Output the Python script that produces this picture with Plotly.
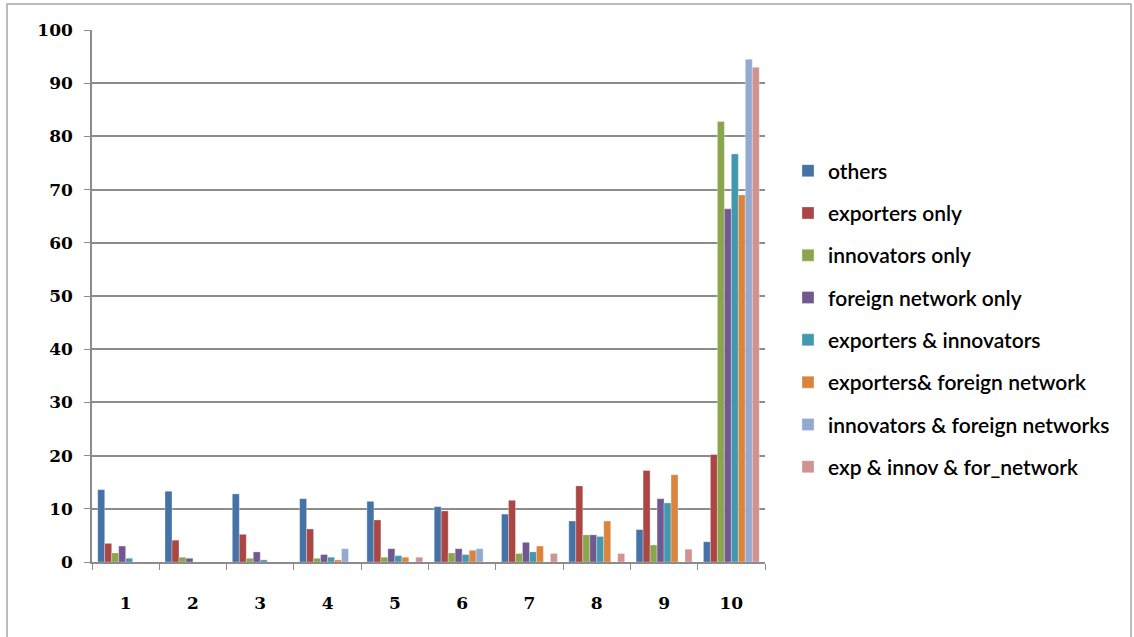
import plotly.graph_objects as go

# Deciles 1..10 and share (%) of each firm type falling in each decile
deciles = ["1", "2", "3", "4", "5", "6", "7", "8", "9", "10"]

others = [13.6, 13.3, 12.8, 11.9, 11.4, 10.4, 9.0, 7.7, 6.1, 3.8]
exporters_only = [3.5, 4.1, 5.2, 6.2, 7.9, 9.6, 11.6, 14.3, 17.2, 20.2]
innovators_only = [1.7, 0.9, 0.7, 0.7, 0.9, 1.7, 1.6, 5.1, 3.2, 82.8]
foreign_network_only = [3.0, 0.7, 1.9, 1.4, 2.5, 2.5, 3.7, 5.1, 11.9, 66.4]
exporters_innovators = [0.7, 0.0, 0.4, 0.9, 1.2, 1.4, 1.9, 4.8, 11.1, 76.7]
exporters_foreign = [0.0, 0.0, 0.0, 0.4, 0.9, 2.2, 3.0, 7.7, 16.4, 69.0]
innovators_foreign = [0.0, 0.0, 0.0, 2.5, 0.0, 2.5, 0.0, 0.0, 0.0, 94.5]
exp_innov_foreign = [0.0, 0.0, 0.0, 0.0, 0.9, 0.0, 1.6, 1.6, 2.4, 93.0]

series_names = [
    "others",
    "exporters only",
    "innovators only",
    "foreign network only",
    "exporters & innovators",
    "exporters& foreign network",
    "innovators & foreign networks",
    "exp & innov & for_network",
]
series_values = [
    others, exporters_only, innovators_only, foreign_network_only,
    exporters_innovators, exporters_foreign, innovators_foreign, exp_innov_foreign,
]
colors = ["#4572A7", "#AA4643", "#89A54E", "#71588F",
          "#4198AF", "#DB843D", "#93A9CF", "#D19392"]

y_ticks = [0, 10, 20, 30, 40, 50, 60, 70, 80, 90, 100]

fig = go.Figure()
for i, (name, vals, col) in enumerate(zip(series_names, series_values, colors)):
    fig.add_trace(go.Bar(
        x=deciles, y=vals, name=name,
        marker=dict(color=col, line=dict(color="rgba(255,255,255,0.6)", width=0.5)),
        legendgroup=f"g{i}",
    ))

W, H = 1134, 637
ml, mr, mt, mb = 92, 369, 30, 75
pw, ph = W - ml - mr, H - mt - mb

def px_x(p):
    return (p - ml) / pw

def px_y(p):
    return (H - mb - p) / ph

fig.update_layout(
    width=W, height=H,
    margin=dict(l=ml, r=mr, t=mt, b=mb, autoexpand=False),
    paper_bgcolor="white", plot_bgcolor="white",
    barmode="group", bargap=0.17, bargroupgap=0,
    showlegend=True,
    legend=dict(
        x=px_x(788), xanchor="left",
        y=px_y(319), yanchor="middle",
        font=dict(family="Lato", size=21, color="#000000", weight=600),
        tracegroupgap=12, itemwidth=30,
        bgcolor="rgba(0,0,0,0)",
    ),
    xaxis=dict(
        type="category",
        tickfont=dict(family="DejaVu Serif", size=17, color="#000000", weight="bold"),
        ticks="outside", tickson="boundaries", ticklen=6, tickcolor="#8C8C8C",
        showline=True, linecolor="#8C8C8C", linewidth=1.5,
        showgrid=False, ticklabelstandoff=25,
    ),
    yaxis=dict(
        range=[0, 100], tickvals=y_ticks,
        tickfont=dict(family="DejaVu Serif", size=17, color="#000000", weight="bold"),
        ticks="outside", ticklen=6, tickcolor="#8C8C8C",
        showline=True, linecolor="#8C8C8C", linewidth=1.5,
        showgrid=True, gridcolor="#8C8C8C", gridwidth=1.5,
        zeroline=False, ticklabelstandoff=8,
    ),
    shapes=[dict(
        type="rect", xref="paper", yref="paper",
        x0=px_x(7), x1=px_x(1131), y0=px_y(645), y1=px_y(4),
        line=dict(color="#A6A6A6", width=1.5), fillcolor="rgba(0,0,0,0)",
        layer="below",
    )],
)

fig.write_html("out.html")
